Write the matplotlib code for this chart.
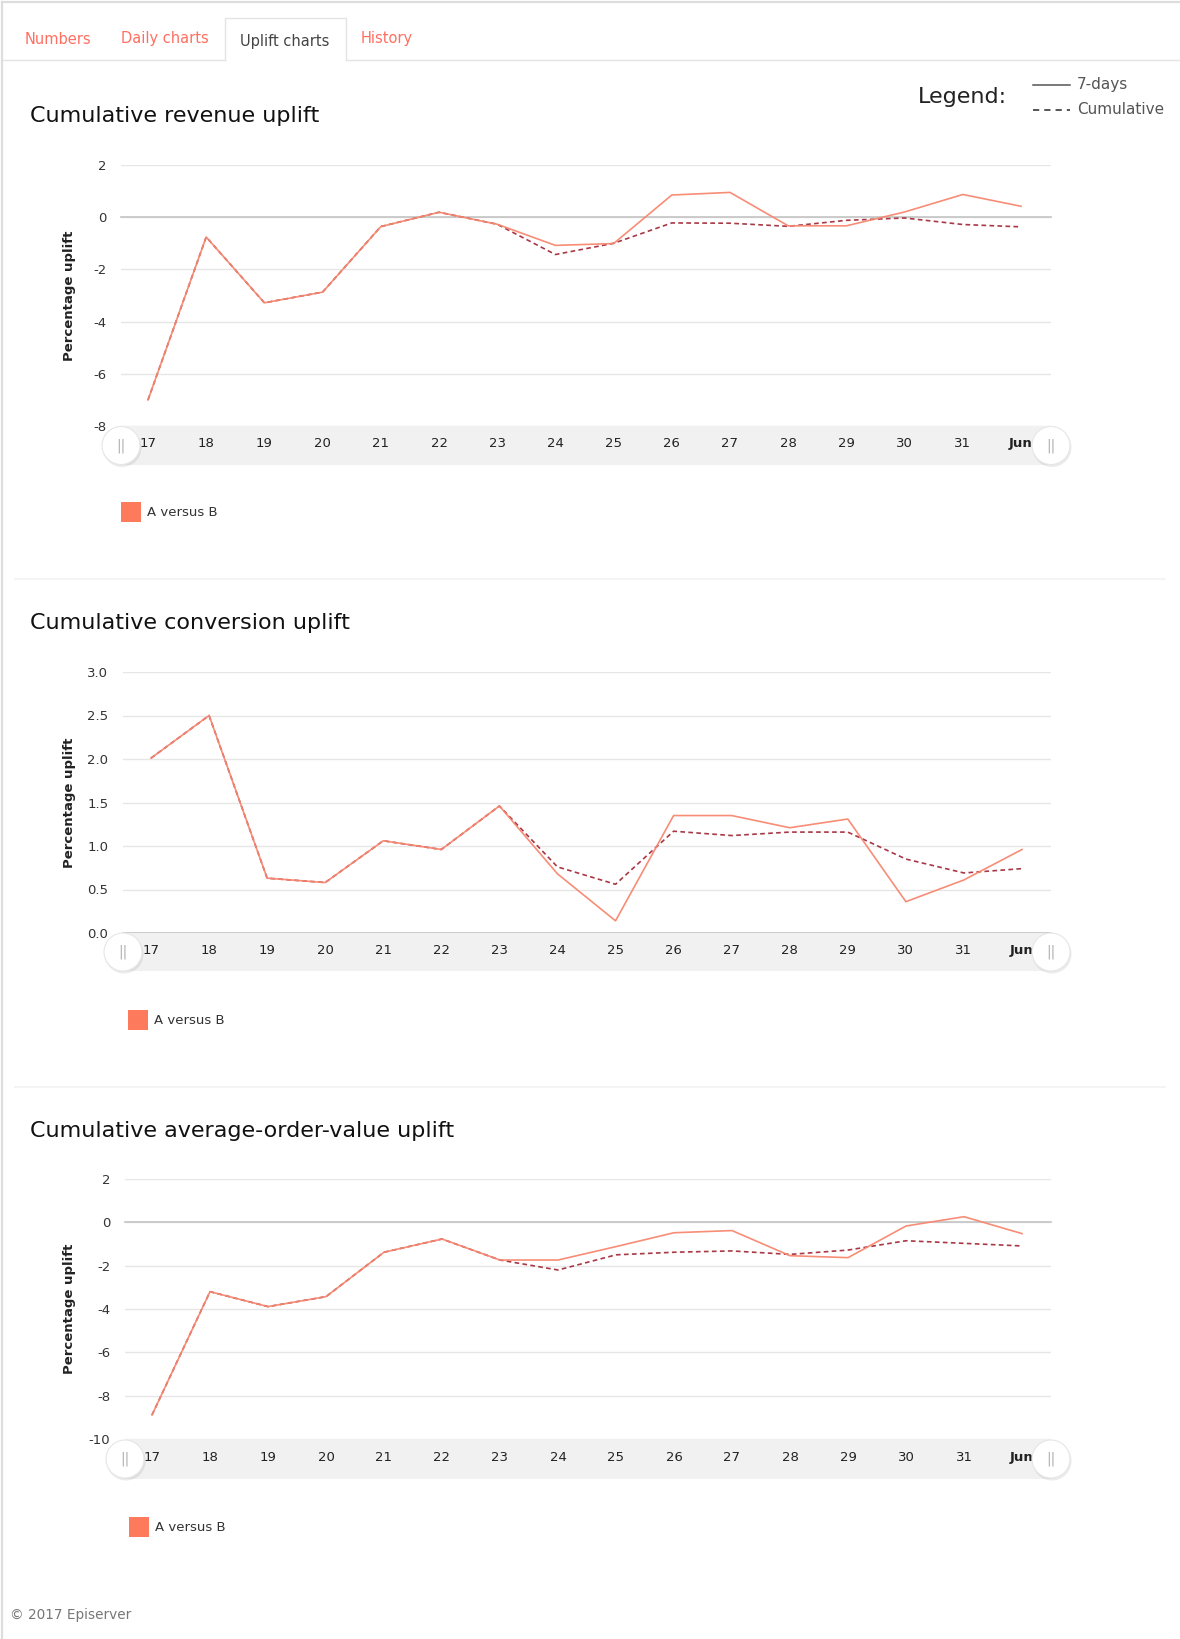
import numpy as np
import matplotlib
matplotlib.use('Agg')
import matplotlib.pyplot as plt
from matplotlib.patches import Circle, Rectangle
from matplotlib.lines import Line2D

plt.rcParams['font.family'] = 'DejaVu Sans'
plt.rcParams['axes.unicode_minus'] = False

# Days on the x axis
days = ['17', '18', '19', '20', '21', '22', '23', '24', '25', '26', '27', '28', '29', '30', '31', 'Jun']

# Percentage uplift, A versus B
revenue_7day = [-7.0, -0.76, -3.28, -2.87, -0.36, 0.19, -0.27, -1.08, -1.01, 0.85, 0.95, -0.33, -0.33, 0.20, 0.87, 0.42]
revenue_cumulative = [-7.0, -0.76, -3.28, -2.87, -0.36, 0.19, -0.27, -1.43, -1.00, -0.22, -0.23, -0.35, -0.12, -0.03, -0.28, -0.37]

conversion_7day = [2.01, 2.50, 0.63, 0.58, 1.06, 0.96, 1.46, 0.68, 0.14, 1.35, 1.35, 1.21, 1.31, 0.36, 0.61, 0.96]
conversion_cumulative = [2.01, 2.50, 0.63, 0.58, 1.06, 0.96, 1.46, 0.76, 0.56, 1.17, 1.12, 1.16, 1.16, 0.85, 0.69, 0.74]

aov_7day = [-8.89, -3.20, -3.89, -3.43, -1.38, -0.77, -1.74, -1.74, -1.12, -0.48, -0.38, -1.54, -1.63, -0.17, 0.26, -0.52]
aov_cumulative = [-8.89, -3.20, -3.89, -3.43, -1.38, -0.77, -1.74, -2.20, -1.50, -1.38, -1.32, -1.48, -1.28, -0.85, -0.97, -1.09]

titles = ['Cumulative revenue uplift', 'Cumulative conversion uplift', 'Cumulative average-order-value uplift']
tabs = ['Numbers', 'Daily charts', 'Uplift charts', 'History']

# Page size in pixels
W, H = 1180, 1639

# Colours
SOLID = '#f7876f'
DASHED = '#a93745'
SWATCH = '#fd7b5c'
TAB_RED = '#ff6f61'
GRID = '#e6e6e6'
ZERO = '#c4c4c4'
BAND = '#f1f1f1'


def rect(x0, y0, x1, y1):
    # pixel box (top-left origin) -> figure fraction
    return [x0 / W, 1 - y1 / H, (x1 - x0) / W, (y1 - y0) / H]


fig = plt.figure(figsize=(W / 100, H / 100), dpi=100)
fig.patch.set_facecolor('white')

# Background layer in pixel coordinates
bg = fig.add_axes([0, 0, 1, 1], zorder=-5)
bg.set_xlim(0, W)
bg.set_ylim(H, 0)
bg.axis('off')

# page frame
bg.plot([2, 2], [2, H], color='#dddddd', lw=1.6)
bg.plot([2, W], [2, 2], color='#dddddd', lw=1.6)

# tab strip
bg.plot([3, 225], [59.5, 59.5], color='#e4e4e4', lw=1)
bg.plot([346, W], [59.5, 59.5], color='#e4e4e4', lw=1)
bg.plot([225, 225, 346, 346], [59.5, 18, 18, 59.5], color='#e4e4e4', lw=1)
tab_x = [25, 121, 240, 361]
for name, tx in zip(tabs, tab_x):
    active = name == 'Uplift charts'
    bg.text(tx, 41.5 if active else 39, name, fontsize=10.5,
            color='#444444' if active else TAB_RED, ha='left', va='center')

# legend in the top right corner
bg.text(918, 97, 'Legend:', fontsize=16, color='#222222', ha='left', va='center')
bg.plot([1033, 1070], [85, 85], color='#555555', lw=1.1)
bg.add_line(Line2D([1033, 1070], [110, 110], color='#555555', lw=1.4, dashes=(3.2, 2.6)))
bg.text(1077, 85, '7-days', fontsize=11, color='#555555', ha='left', va='center')
bg.text(1077, 110, 'Cumulative', fontsize=11, color='#555555', ha='left', va='center')

# separators between the charts
for sy in [579, 1087]:
    bg.plot([15, 1165], [sy, sy], color='#f2f2f2', lw=1.2)

bg.text(10, 1615, '\u00a9 2017 Episerver', fontsize=9.8, color='#777777', ha='left', va='center')

# Overlay layer for slider handles
top = fig.add_axes([0, 0, 1, 1], zorder=10)
top.set_xlim(0, W)
top.set_ylim(H, 0)
top.axis('off')
top.patch.set_alpha(0)

charts = [
    dict(title=titles[0], seven=revenue_7day, cum=revenue_cumulative,
         yticks=np.arange(-8, 3, 2), fmt='{:.0f}',
         px=(121, 1051), py=(165, 426), first=148, last=1021,
         band=(426, 465), title_y=116, legend=(121, 502)),
    dict(title=titles[1], seven=conversion_7day, cum=conversion_cumulative,
         yticks=np.arange(0, 3.01, 0.5), fmt='{:.1f}',
         px=(123, 1051), py=(672, 933), first=151, last=1022,
         band=(933, 971), title_y=623, legend=(128, 1010)),
    dict(title=titles[2], seven=aov_7day, cum=aov_cumulative,
         yticks=np.arange(-10, 3, 2), fmt='{:.0f}',
         px=(125, 1051), py=(1179, 1439), first=152, last=1022,
         band=(1439, 1479), title_y=1131, legend=(129, 1517)),
]

x = np.arange(len(days))

for c in charts:
    x0, x1 = c['px']
    y0, y1 = c['py']
    step = (len(days) - 1) / (c['last'] - c['first'])
    xlim = (-(c['first'] - x0) * step, len(days) - 1 + (x1 - c['last']) * step)

    ax = fig.add_axes(rect(x0, y0, x1, y1))
    ax.set_xlim(*xlim)
    ax.set_ylim(c['yticks'][0], c['yticks'][-1])
    for v in c['yticks']:
        ax.axhline(v, color=GRID, lw=1, zorder=0)
    ax.axhline(0, color=ZERO, lw=1.2, zorder=1, clip_on=False)

    ax.plot(x, c['cum'], color=DASHED, lw=1.2, dashes=(2.8, 2), zorder=3)
    ax.plot(x, c['seven'], color=SOLID, lw=1.2, alpha=0.95, zorder=4)

    ax.set_yticks(c['yticks'])
    ax.set_yticklabels([c['fmt'].format(v) for v in c['yticks']], fontsize=9.5, color='#333333')
    ax.set_xticks([])
    ax.tick_params(axis='y', length=0, pad=10.5)
    for s in ax.spines.values():
        s.set_visible(False)

    # navigator band with the day labels
    b0, b1 = c['band']
    nav = fig.add_axes(rect(x0, b0, x1, b1))
    nav.set_xlim(*xlim)
    nav.set_ylim(0, 1)
    nav.set_facecolor(BAND)
    for s in nav.spines.values():
        s.set_visible(False)
    nav.set_xticks([])
    nav.set_yticks([])
    for i, d in enumerate(days):
        nav.text(i, 0.54, d, fontsize=9.5, color='#222222', ha='center', va='center',
                 fontweight='bold' if d == 'Jun' else 'normal')

    # slider handles at both ends of the band
    hy = (b0 + b1) / 2
    for hx in [x0, x1]:
        top.add_patch(Circle((hx + 1, hy + 2), 19.5, facecolor='#000000', alpha=0.08, lw=0))
        top.add_patch(Circle((hx, hy), 19, facecolor='white', edgecolor='#e6e6e6', lw=0.8))
        top.text(hx, hy, '||', fontsize=10, color='#b0b0b0', ha='center', va='center')

    fig.text(70 / W, 1 - (y0 + y1) / 2 / H, 'Percentage uplift', rotation=90,
             fontsize=9.5, fontweight='bold', color='#222222', ha='center', va='center')

    bg.text(30, c['title_y'], c['title'], fontsize=16, color='#111111', ha='left', va='center')

    lx, ly = c['legend']
    bg.add_patch(Rectangle((lx, ly), 20, 20, facecolor=SWATCH, edgecolor='none'))
    bg.text(lx + 26, ly + 10.5, 'A versus B', fontsize=9.5, color='#333333', ha='left', va='center')

fig.savefig('out.png', dpi=100)
